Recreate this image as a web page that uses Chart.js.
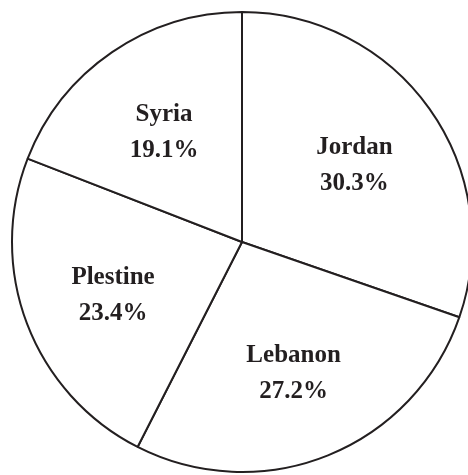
<!DOCTYPE html>
<html>
<head>
<meta charset="utf-8">
<script src="https://cdn.jsdelivr.net/npm/chart.js@4/dist/chart.umd.min.js"></script>
<style>
  html, body { margin: 0; padding: 0; background: #fff; overflow: hidden; }
  #wrap { width: 480px; height: 475px; position: relative; }
</style>
</head>
<body>
<div id="wrap"><canvas id="chart"></canvas></div>
<script>
const countries = ["Jordan", "Lebanon", "Plestine", "Syria"];
const shares = [30.3, 27.2, 23.4, 19.1];

// draws "name / xx.x%" inside each slice
const sliceLabels = {
  id: "sliceLabels",
  afterDatasetsDraw(chart) {
    const { ctx } = chart;
    const meta = chart.getDatasetMeta(0);
    ctx.save();
    ctx.fillStyle = "#231f20";
    ctx.font = "bold 25px 'Liberation Serif', 'Times New Roman', serif";
    ctx.textAlign = "center";
    ctx.textBaseline = "middle";
    meta.data.forEach((arc, i) => {
      const { x, y, startAngle, endAngle, outerRadius } = arc.getProps(
        ["x", "y", "startAngle", "endAngle", "outerRadius"], true);
      const mid = (startAngle + endAngle) / 2;
      const r = outerRadius * 0.6;
      const cx = x + Math.cos(mid) * r;
      const cy = y + Math.sin(mid) * r + 4;
      ctx.fillText(countries[i], cx, cy - 18);
      ctx.fillText(shares[i].toFixed(1) + "%", cx, cy + 18);
    });
    ctx.restore();
  },
};

new Chart(document.getElementById("chart"), {
  type: "pie",
  data: {
    labels: countries,
    datasets: [{
      data: shares,
      backgroundColor: "#ffffff",
      borderColor: "#231f20",
      borderWidth: 2,
      borderAlign: "center",
    }],
  },
  options: {
    responsive: true,
    maintainAspectRatio: false,
    animation: false,
    layout: { padding: { left: 11, right: 7, top: 11, bottom: 2 } },
    plugins: {
      legend: { display: false },
      tooltip: { enabled: false },
    },
  },
  plugins: [sliceLabels],
});
</script>
</body>
</html>
